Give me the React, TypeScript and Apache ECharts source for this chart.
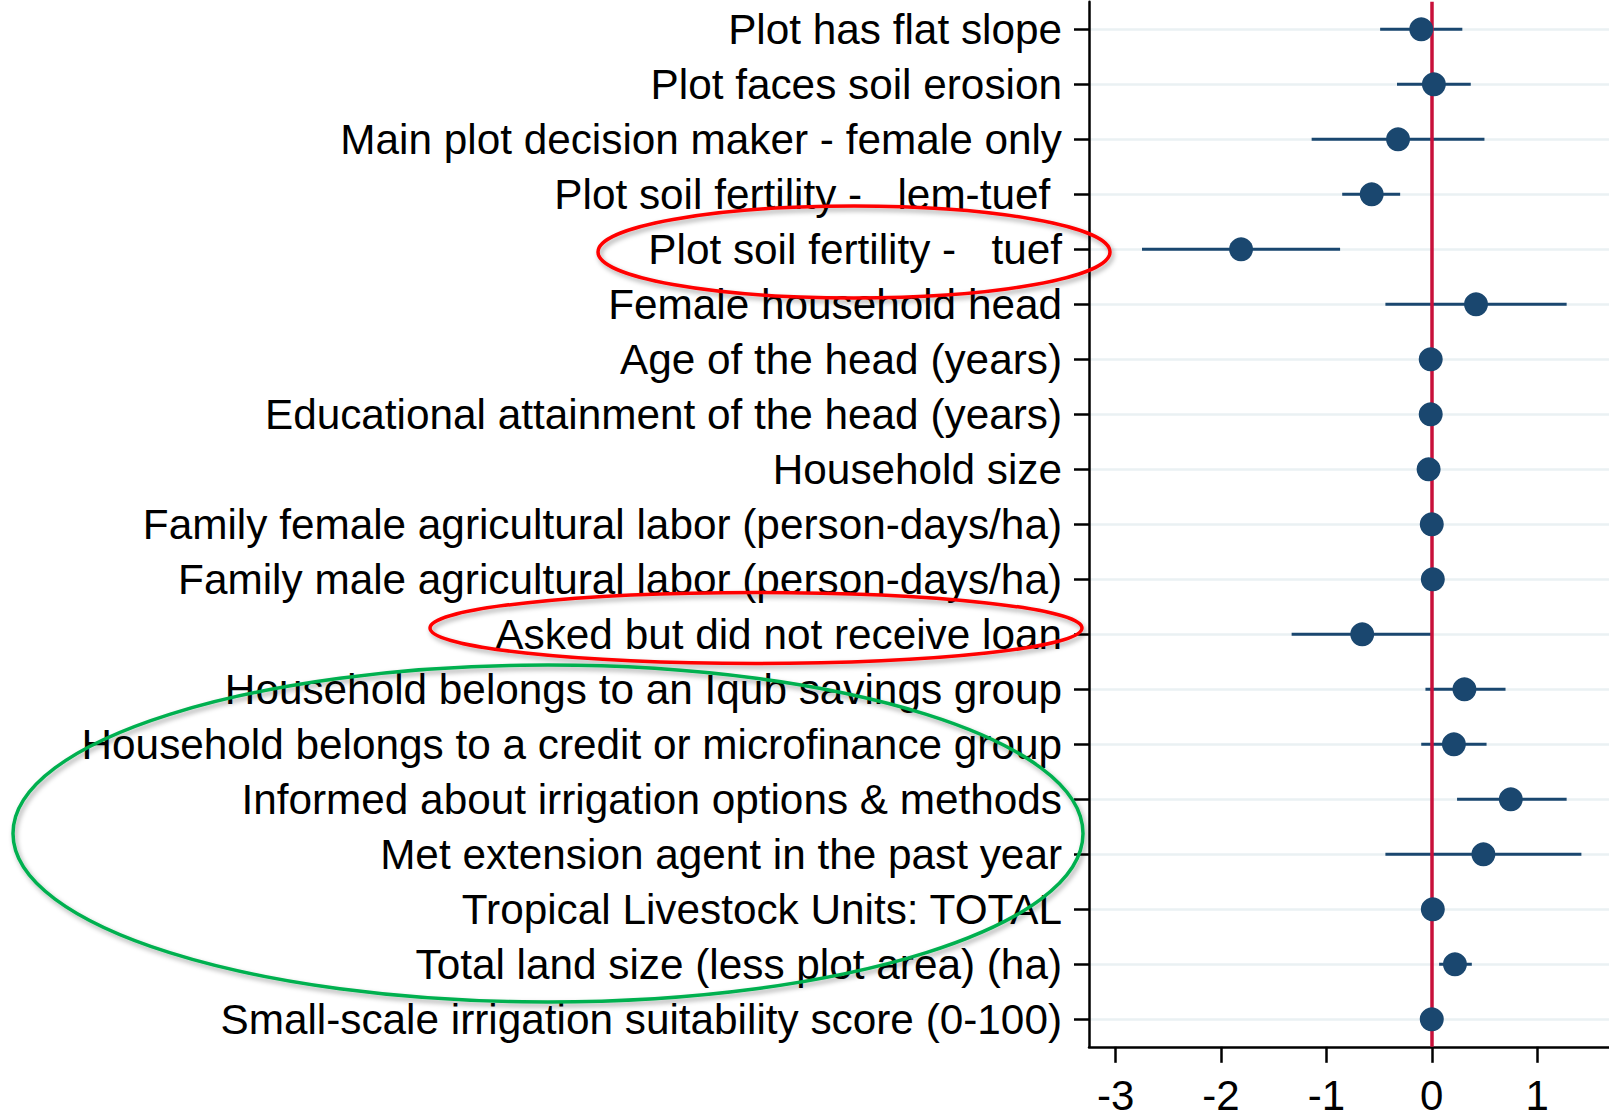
import React, { useEffect, useRef } from 'react';
import * as echarts from 'echarts';

const categories = [
  'Plot has flat slope',
  'Plot faces soil erosion',
  'Main plot decision maker - female only',
  'Plot soil fertility -\u00A0\u00A0 lem-tuef\u00A0',
  'Plot soil fertility -\u00A0\u00A0 tuef',
  'Female household head',
  'Age of the head (years)',
  'Educational attainment of the head (years)',
  'Household size',
  'Family female agricultural labor (person-days/ha)',
  'Family male agricultural labor (person-days/ha)',
  'Asked but did not receive loan',
  'Household belongs to an Iqub savings group',
  'Household belongs to a credit or microfinance group',
  'Informed about irrigation options & methods',
  'Met extension agent in the past year',
  'Tropical Livestock Units: TOTAL',
  'Total land size (less plot area) (ha)',
  'Small-scale irrigation suitability score (0-100)',
];

const estimates = [-0.10, 0.02, -0.32, -0.57, -1.81, 0.42, -0.01, -0.01, -0.03, 0.0, 0.01, -0.66, 0.31, 0.21, 0.75, 0.49, 0.01, 0.22, 0.0];
const ciLow = [-0.49, -0.33, -1.14, -0.85, -2.75, -0.44, -0.02, -0.02, -0.05, -0.01, 0.0, -1.33, -0.06, -0.10, 0.24, -0.44, 0.0, 0.07, -0.01];
const ciHigh = [0.29, 0.37, 0.50, -0.30, -0.87, 1.28, 0.0, 0.0, -0.01, 0.01, 0.02, 0.01, 0.70, 0.52, 1.28, 1.42, 0.02, 0.38, 0.01];

const xTicks = [-3, -2, -1, 0, 1];
const xMin = -3.253;
const xMax = 1.682;

const NAVY = '#1A476F';
const RED_LINE = '#C8103A';
const FONT = '"Liberation Sans", Arial, sans-serif';

export default function App() {
  const ref = useRef<HTMLDivElement>(null);

  useEffect(() => {
    document.body.style.margin = '0';
    document.body.style.overflow = 'hidden';
    const chart = echarts.init(ref.current as HTMLDivElement, null, { renderer: 'svg' });

    const ciData = categories.map((c, i) => [ciLow[i], i, ciHigh[i]]);
    const ptData = categories.map((c, i) => [estimates[i], i]);

    const ellipseStyle = (stroke: string) => ({
      fill: 'none',
      stroke,
      lineWidth: 3.5,
      shadowBlur: 5,
      shadowColor: 'rgba(0,0,0,0.35)',
      shadowOffsetX: 2,
      shadowOffsetY: 3,
    });

    chart.setOption({
      animation: false,
      backgroundColor: '#ffffff',
      textStyle: { fontFamily: FONT },
      grid: {
        left: 1089,
        right: 0,
        top: 1.8,
        bottom: 66.2,
        containLabel: false,
        outerBoundsMode: 'none',
      },
      xAxis: {
        type: 'value',
        min: xMin,
        max: xMax,
        axisLine: { show: true, onZero: false, lineStyle: { color: '#000', width: 2.5 } },
        axisTick: { show: true, length: 16, lineStyle: { color: '#000', width: 2.5 }, customValues: xTicks },
        axisLabel: {
          show: true,
          customValues: xTicks,
          fontSize: 42,
          color: '#000',
          fontFamily: FONT,
          margin: 28,
          formatter: (v: number) => String(v),
        },
        splitLine: { show: false },
      },
      yAxis: {
        type: 'category',
        data: categories,
        inverse: true,
        boundaryGap: true,
        axisLine: { show: true, onZero: false, lineStyle: { color: '#000', width: 2.5 } },
        axisTick: { show: true, alignWithLabel: true, interval: 0, length: 15, lineStyle: { color: '#000', width: 2.5 } },
        axisLabel: {
          show: true,
          interval: 0,
          fontSize: 42.3,
          color: '#000',
          fontFamily: FONT,
          margin: 27,
          padding: [4, 0, 0, 0],
        },
        splitLine: { show: true, alignWithLabel: true, interval: 0, lineStyle: { color: '#EAF1F3', width: 2.5 } },
      },
      series: [
        {
          type: 'custom',
          z: 2,
          data: ciData,
          encode: { x: [0, 2], y: 1 },
          renderItem: (params: any, api: any) => {
            const y = api.value(1);
            const p1 = api.coord([api.value(0), y]);
            const p2 = api.coord([api.value(2), y]);
            return {
              type: 'line',
              shape: { x1: p1[0], y1: p1[1], x2: p2[0], y2: p2[1] },
              style: { stroke: NAVY, lineWidth: 3 },
            };
          },
        },
        {
          type: 'scatter',
          z: 5,
          data: ptData,
          symbol: 'circle',
          symbolSize: 24,
          itemStyle: { color: NAVY, opacity: 1 },
          markLine: {
            silent: true,
            z: 3,
            symbol: ['none', 'none'],
            label: { show: false },
            lineStyle: { color: RED_LINE, width: 3.5, type: 'solid' },
            data: [{ xAxis: 0 }],
          },
        },
      ],
      graphic: [
        { type: 'ellipse', z: 100, shape: { cx: 854, cy: 252, rx: 256, ry: 46 }, style: ellipseStyle('#FF0000') },
        { type: 'ellipse', z: 100, shape: { cx: 756, cy: 628, rx: 326, ry: 35.5 }, style: ellipseStyle('#FF0000') },
        { type: 'ellipse', z: 100, shape: { cx: 548, cy: 833.5, rx: 535, ry: 168.5 }, style: ellipseStyle('#00B050') },
      ],
    });

    return () => chart.dispose();
  }, []);

  return (
    <div
      ref={ref}
      style={{ position: 'absolute', left: 0, top: 0, width: 1609, height: 1113, background: '#fff' }}
    />
  );
}
